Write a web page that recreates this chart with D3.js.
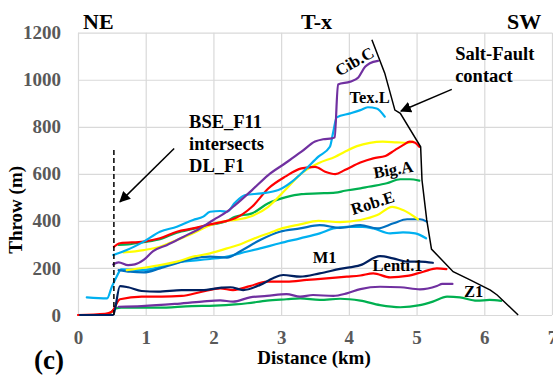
<!DOCTYPE html>
<html>
<head>
<meta charset="utf-8">
<script src="https://cdn.jsdelivr.net/npm/d3@7"></script>
<style>
  html, body { margin: 0; padding: 0; background: #fff; }
  svg { display: block; font-family: "Liberation Serif", "Times New Roman", serif; }
</style>
</head>
<body>
<svg id="chart" width="553" height="379"></svg>
<script>
// Fault throw along the T-x section: distance (km) against throw (m) for each horizon.
const xTicks = [0, 1, 2, 3, 4, 5, 6, 7];
const yTicks = [0, 200, 400, 600, 800, 1000, 1200];

// [distance km, throw m]
const cibC = [[0.52,215],[0.6,224],[0.74,212],[0.84,215],[0.97,234],[1.11,272],[1.31,297],[1.56,333],[1.80,368],[2.0,404],[2.20,439],[2.32,467],[2.57,531],[2.81,595],[3.06,645],[3.30,694],[3.50,737],[3.62,747],[3.75,751],[3.79,755],[3.84,980],[4.02,992],[4.14,1010],[4.24,1055],[4.31,1070],[4.43,1080]];
const texL = [[0.52,255],[0.72,276],[0.97,312],[1.21,354],[1.46,375],[1.70,404],[1.85,418],[1.95,439],[2.10,442],[2.20,439],[2.32,478],[2.47,510],[2.71,517],[2.96,531],[3.16,567],[3.35,616],[3.55,673],[3.72,715],[3.77,779],[3.82,840],[4.02,857],[4.17,871],[4.28,883],[4.41,878],[4.53,843]];
const bigAred = [[0.53,290],[0.62,305],[0.97,312],[1.21,326],[1.46,354],[1.70,368],[1.95,385],[2.20,400],[2.32,411],[2.57,460],[2.81,538],[3.06,588],[3.30,623],[3.50,630],[3.65,609],[3.80,599],[3.94,616],[4.17,648],[4.36,666],[4.54,676],[4.68,701],[4.80,722],[4.90,737],[4.98,732],[5.04,715]];
const bigAyellow = [[0.67,266],[0.97,276],[1.21,290],[1.46,319],[1.70,347],[1.95,382],[2.20,400],[2.32,404],[2.57,421],[2.81,460],[3.06,531],[3.30,602],[3.55,645],[3.80,673],[3.94,694],[4.12,718],[4.31,732],[4.50,737],[4.71,734],[4.86,732],[4.95,737]];
const bigAgreen = [[0.60,298],[0.74,300],[0.97,310],[1.21,322],[1.46,350],[1.70,366],[1.95,383],[2.20,400],[2.32,418],[2.57,432],[2.81,475],[3.06,500],[3.30,514],[3.55,517],[3.80,520],[3.94,528],[4.17,538],[4.29,545],[4.56,560],[4.76,577],[4.90,577],[5.04,571]];
const robE = [[0.72,191],[0.97,201],[1.21,212],[1.46,227],[1.70,248],[1.95,262],[2.20,283],[2.39,300],[2.67,333],[2.84,350],[2.98,365],[3.28,385],[3.55,400],[3.87,395],[4.17,404],[4.42,425],[4.64,460],[4.80,446],[5.02,407]];
const robEblue = [[0.60,191],[0.77,184],[0.97,181],[1.21,198],[1.46,220],[1.70,241],[1.95,248],[2.20,244],[2.39,270],[2.69,319],[2.98,354],[3.28,368],[3.57,382],[3.87,370],[4.17,382],[4.42,368],[4.66,390],[4.86,407],[5.05,407],[5.15,397]];
const robEcyan = [[0.13,75],[0.43,71],[0.50,120],[0.57,163],[0.64,194],[0.97,191],[1.46,224],[1.95,238],[2.20,248],[2.39,262],[2.69,283],[2.98,305],[3.28,326],[3.57,347],[3.77,368],[3.97,375],[4.20,375],[4.36,368],[4.61,347],[4.80,351],[4.98,347],[5.14,326]];
const m1 = [[0.03,0],[0.52,0],[0.62,123],[0.74,118],[0.94,102],[1.18,99],[1.53,106],[1.83,106],[2.12,116],[2.25,118],[2.44,106],[2.69,128],[2.88,156],[3.03,170],[3.28,163],[3.57,177],[3.87,196],[4.17,212],[4.46,250],[4.65,241],[4.86,227],[5.05,227],[5.24,222]];
const lenti1 = [[0.0,0],[0.40,5],[0.50,14],[0.62,67],[0.94,78],[1.24,78],[1.53,81],[1.83,99],[2.10,113],[2.29,106],[2.54,123],[2.79,142],[3.08,142],[3.38,149],[3.67,156],[3.97,163],[4.17,168],[4.36,177],[4.61,160],[4.86,166],[5.10,184],[5.30,198],[5.44,195]];
const lenti1purple = [[0.60,35],[0.94,38],[1.43,47],[1.83,57],[2.10,62],[2.29,57],[2.54,75],[2.79,81],[3.08,89],[3.28,78],[3.47,85],[3.77,81],[3.97,92],[4.17,110],[4.46,120],[4.76,118],[5.05,109],[5.30,123],[5.38,132],[5.53,132]];
const z1 = [[0.47,5],[0.56,28],[0.64,31],[1.18,31],[1.68,38],[2.02,40],[2.32,45],[2.50,50],[2.79,61],[3.08,67],[3.28,71],[3.57,64],[3.87,69],[4.17,61],[4.46,42],[4.76,33],[5.05,42],[5.24,57],[5.45,78],[5.64,75],[5.89,61],[6.08,64],[6.25,60]];
// Salt-fault contact trace
const saltFault = [[4.34,1170],[4.53,1028],[4.68,871],[4.76,857],[5.06,715],[5.08,574],[5.15,404],[5.22,280],[5.35,241],[5.54,184],[5.79,149],[6.09,106],[6.19,85],[6.50,0]];
// Where BSE_F11 intersects DL_F1
const intersectX = [0.53];
const intersectTop = [708];

const horizonNames = ["Cib.C", "Tex.L", "Big.A", "Rob.E", "M1", "Lenti.1", "Z1"];

const svg = d3.select("#chart");
const W = 553, H = 379;
const margin = { left: 78, right: 1, top: 32.7, bottom: 64 };
const iw = W - margin.left - margin.right;
const ih = H - margin.top - margin.bottom;

const x = d3.scaleLinear().domain([0, 7]).range([margin.left, margin.left + iw]);
const y = d3.scaleLinear().domain([0, 1200]).range([margin.top + ih, margin.top]);

const gridColor = "#d9d9d9";
const tickColor = "#595959";

// gridlines + tick labels
const gx = svg.append("g")
  .attr("transform", `translate(0,${margin.top + ih})`)
  .call(d3.axisBottom(x).tickValues(xTicks).tickFormat(d3.format("d")).tickSize(-ih).tickPadding(16));
const gy = svg.append("g")
  .attr("transform", `translate(${margin.left},0)`)
  .call(d3.axisLeft(y).tickValues(yTicks).tickFormat(d3.format("d")).tickSize(-iw).tickPadding(17));
[gx, gy].forEach(g => {
  g.select(".domain").remove();
  g.selectAll(".tick line").attr("stroke", gridColor).attr("stroke-width", 1.2);
  g.selectAll(".tick text")
    .attr("fill", tickColor)
    .style("font-family", '"Liberation Serif", serif')
    .style("font-size", "19px")
    .style("font-weight", "bold");
});

const line = d3.line().x(d => x(d[0])).y(d => y(d[1])).curve(d3.curveMonotoneX);

const series = [
  { pts: z1, color: "#00B050" },
  { pts: lenti1purple, color: "#7030A0" },
  { pts: lenti1, color: "#FF0000" },
  { pts: m1, color: "#002060" },
  { pts: robEcyan, color: "#00B0F0" },
  { pts: robEblue, color: "#0070C0" },
  { pts: robE, color: "#FFFF00" },
  { pts: bigAgreen, color: "#00B050" },
  { pts: bigAyellow, color: "#FFFF00" },
  { pts: bigAred, color: "#FF0000" },
  { pts: texL, color: "#00B0F0" },
  { pts: cibC, color: "#7030A0" }
];

svg.append("g").selectAll("path")
  .data(series)
  .join("path")
  .attr("d", d => line(d.pts))
  .attr("fill", "none")
  .attr("stroke", d => d.color)
  .attr("stroke-width", 2.2)
  .attr("stroke-linejoin", "round")
  .attr("stroke-linecap", "round");

// salt-fault contact
svg.append("path")
  .attr("d", d3.line().x(d => x(d[0])).y(d => y(d[1]))(saltFault))
  .attr("fill", "none")
  .attr("stroke", "#000")
  .attr("stroke-width", 1.5);

// dashed intersection marker
svg.append("line")
  .attr("x1", x(intersectX[0])).attr("x2", x(intersectX[0]))
  .attr("y1", y(0)).attr("y2", y(intersectTop[0]))
  .attr("stroke", "#000").attr("stroke-width", 1.5)
  .attr("stroke-dasharray", "5,3");

// arrows
const defs = svg.append("defs");
defs.append("marker")
  .attr("id", "arrowhead")
  .attr("viewBox", "0 0 10 10")
  .attr("refX", 9).attr("refY", 5)
  .attr("markerWidth", 7).attr("markerHeight", 7)
  .attr("markerUnits", "userSpaceOnUse")
  .attr("orient", "auto")
  .append("path").attr("d", "M0,0 L10,5 L0,10 z").attr("fill", "#000");
defs.select("marker").attr("markerWidth", 11).attr("markerHeight", 11);

const arrows = [
  { from: [1.42, 708], to: [0.62, 481] },
  { from: [5.52, 959], to: [4.77, 867] }
];
svg.append("g").selectAll("line")
  .data(arrows)
  .join("line")
  .attr("x1", d => x(d.from[0])).attr("y1", d => y(d.from[1]))
  .attr("x2", d => x(d.to[0])).attr("y2", d => y(d.to[1]))
  .attr("stroke", "#000").attr("stroke-width", 1.5)
  .attr("marker-end", "url(#arrowhead)");

// horizon labels
const labelSpots = [
  { at: [4.085, 1077], rot: -30 },
  { at: [4.306, 925], rot: 0 },
  { at: [4.654, 618], rot: -10 },
  { at: [4.350, 476], rot: -18 },
  { at: [3.641, 244], rot: 0 },
  { at: [4.719, 210], rot: 0 },
  { at: [5.842, 99], rot: 0 }
];
svg.append("g").selectAll("text")
  .data(horizonNames)
  .join("text")
  .attr("transform", (d, i) => `translate(${x(labelSpots[i].at[0])},${y(labelSpots[i].at[1])}) rotate(${labelSpots[i].rot})`)
  .attr("text-anchor", "middle")
  .attr("dominant-baseline", "central")
  .style("font-size", "16.5px")
  .style("font-weight", "bold")
  .attr("fill", "#000")
  .text(d => d);

// annotation texts
const note = (lines, px, py, size, lh) => {
  const t = svg.append("text")
    .attr("x", x(px)).attr("y", y(py))
    .style("font-size", size + "px").style("font-weight", "bold").attr("fill", "#000");
  lines.forEach((s, i) => t.append("tspan").attr("x", x(px)).attr("dy", i ? lh : 0).text(s));
};
note(["BSE_F11", "intersects", "DL_F1"], 1.64, 797, 18.5, 22);
note(["Salt-Fault", "contact"], 5.57, 1084, 18.5, 22);

// section end labels
const head = (s, px) => svg.append("text").attr("x", px).attr("y", 29)
  .style("font-size", "22px").style("font-weight", "bold").attr("fill", "#000").text(s);
head("NE", 83);
head("T-x", 301);
head("SW", 507);

// axis titles
svg.append("text")
  .attr("x", margin.left + iw / 2 - 1).attr("y", 364)
  .attr("text-anchor", "middle")
  .style("font-size", "19px").style("font-weight", "bold")
  .text("Distance (km)");
svg.append("text")
  .attr("transform", `translate(22,${margin.top + ih / 2 + 36}) rotate(-90)`)
  .attr("text-anchor", "middle")
  .style("font-size", "19px").style("font-weight", "bold")
  .text("Throw (m)");

svg.append("text")
  .attr("x", 34).attr("y", 369)
  .style("font-size", "27px").style("font-weight", "bold")
  .text("(c)");
</script>
</body>
</html>
